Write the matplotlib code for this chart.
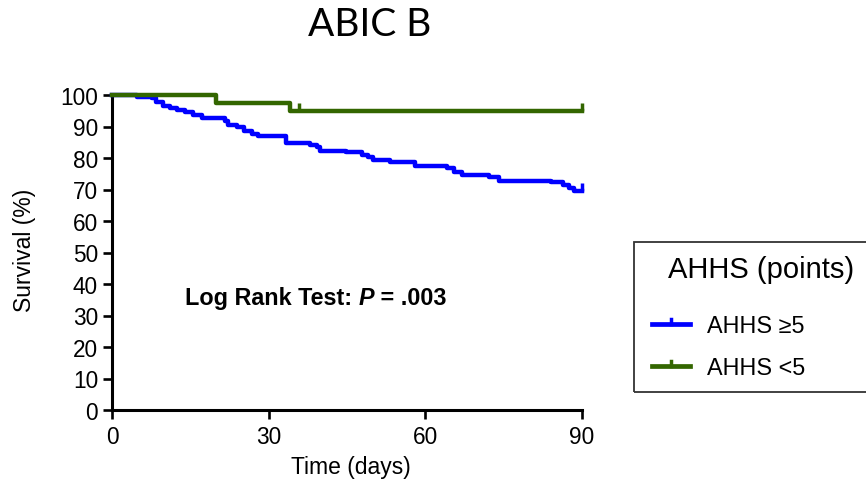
import matplotlib
matplotlib.use("Agg")
import matplotlib.pyplot as plt
from matplotlib.lines import Line2D
from matplotlib.patches import Rectangle
from matplotlib.transforms import offset_copy

# ---- data ----
title = "ABIC B"
xlabel = "Time (days)"
ylabel = "Survival (%)"
xticks = [0, 30, 60, 90]
yticks = [0, 10, 20, 30, 40, 50, 60, 70, 80, 90, 100]
legend_title = "AHHS (points)"
series_labels = ["AHHS \u22655", "AHHS <5"]
series_colors = ["#0000FF", "#336600"]

blue_t = [0, 4.7, 7.6, 8.5, 9.8, 11.2, 12.4, 14.0, 15.6, 17.2, 21.7, 22.3, 23.9,
          25.2, 26.8, 28.0, 33.4, 37.9, 39.2, 39.8, 44.9, 47.8, 49.0, 50.0, 53.3,
          58.1, 64.1, 65.4, 67.1, 72.1, 74.1, 84.0, 86.3, 87.5, 88.5, 90]
blue_s = [100, 99.5, 99.0, 97.7, 96.4, 95.9, 95.2, 94.5, 93.6, 92.7, 91.8, 90.6, 89.7,
          88.7, 87.6, 86.9, 84.8, 84.1, 83.4, 82.3, 81.8, 81.0, 80.2, 79.5, 78.8,
          77.5, 76.7, 75.6, 74.6, 73.9, 72.8, 72.3, 71.4, 70.4, 69.6, 69.6]
blue_cens_t = [90]
blue_cens_s = [69.6]

green_t = [0, 19.9, 34.0, 90]
green_s = [100, 97.4, 94.9, 94.9]
green_cens_t = [35.9, 90]
green_cens_s = [94.9, 94.9]

stat_text = ["Log Rank Test: ", "P", " = .003"]

# ---- figure ----
W, H = 866, 485
fig = plt.figure(figsize=(W / 100, H / 100), dpi=100)
plt.rcParams['font.family'] = ['Liberation Sans', 'DejaVu Sans']

def fx(x):
    return x / W

def fy(y):
    return 1 - y / H

ax = fig.add_axes([fx(112), fy(411), (582 - 112) / W, (411 - 96) / H])
ax.set_xlim(0, 90)
ax.set_ylim(0, 100)
for s in ['top', 'right']:
    ax.spines[s].set_visible(False)
for s in ['left', 'bottom']:
    ax.spines[s].set_linewidth(2.2)
ax.set_xticks(xticks)
ax.set_yticks(yticks)
ax.tick_params(axis='both', direction='out', length=6.5, width=1.9, labelsize=16.3, pad=3.5)
ax.tick_params(axis='x', pad=4)

ax.step(blue_t, blue_s, where='post', color=series_colors[0], lw=3.2, clip_on=False, zorder=3)
ax.step(green_t, green_s, where='post', color=series_colors[1], lw=3.2, clip_on=False, zorder=3)
ax.plot(blue_cens_t, blue_cens_s, ls='none', marker=2, ms=6, mew=2.5,
        color=series_colors[0], clip_on=False, zorder=3)
ax.plot(green_cens_t, green_cens_s, ls='none', marker=2, ms=6, mew=2.5,
        color=series_colors[1], clip_on=False, zorder=3)

ax.set_xlabel(xlabel, fontsize=16.5)
ax.set_ylabel(ylabel, fontsize=16.5)
ax.xaxis.set_label_coords((351 - 112) / 470, (411 - 456) / 315)
ax.yaxis.set_label_coords((36 - 112) / 470, (411 - 250) / 315)

# statistic text with bold-italic P
t1 = ax.text(14.0, 33.6, stat_text[0], fontsize=16.8, fontweight='bold', va='baseline')
fig.canvas.draw()
r = fig.canvas.get_renderer()
w1 = t1.get_window_extent(r).width
t2 = ax.text(14.0, 33.6, stat_text[1], fontsize=16.8, fontweight='bold', style='italic',
             va='baseline', transform=offset_copy(ax.transData, fig=fig, x=w1, y=0, units='dots'))
w2 = t2.get_window_extent(r).width
ax.text(14.0, 33.6, stat_text[2], fontsize=16.8, fontweight='bold', va='baseline',
        transform=offset_copy(ax.transData, fig=fig, x=w1 + w2, y=0, units='dots'))

# title
fig.text(fx(370), fy(25), title, fontsize=28, family=['Lato', 'DejaVu Sans'],
         ha='center', va='center')

# legend (box extends beyond the right edge as in the reference)
fig.add_artist(Rectangle((fx(634), fy(393)), (880 - 634) / W, (393 - 243) / H,
                         transform=fig.transFigure, fill=False, ec='#333333', lw=1.3))
fig.text(fx(668), fy(278), legend_title, fontsize=21, ha='left', va='baseline')
for i, (lab, col) in enumerate(zip(series_labels, series_colors)):
    yc = 325 + i * 42
    fig.add_artist(Line2D([fx(652), fx(690)], [fy(yc), fy(yc)], color=col, lw=3.4,
                          transform=fig.transFigure))
    fig.add_artist(Line2D([fx(671), fx(671)], [fy(yc), fy(yc - 5)], color=col, lw=2.5,
                          transform=fig.transFigure))
    fig.text(fx(707), fy(yc + 8), lab, fontsize=16.8, ha='left', va='baseline')

fig.savefig("out.png", dpi=100)
